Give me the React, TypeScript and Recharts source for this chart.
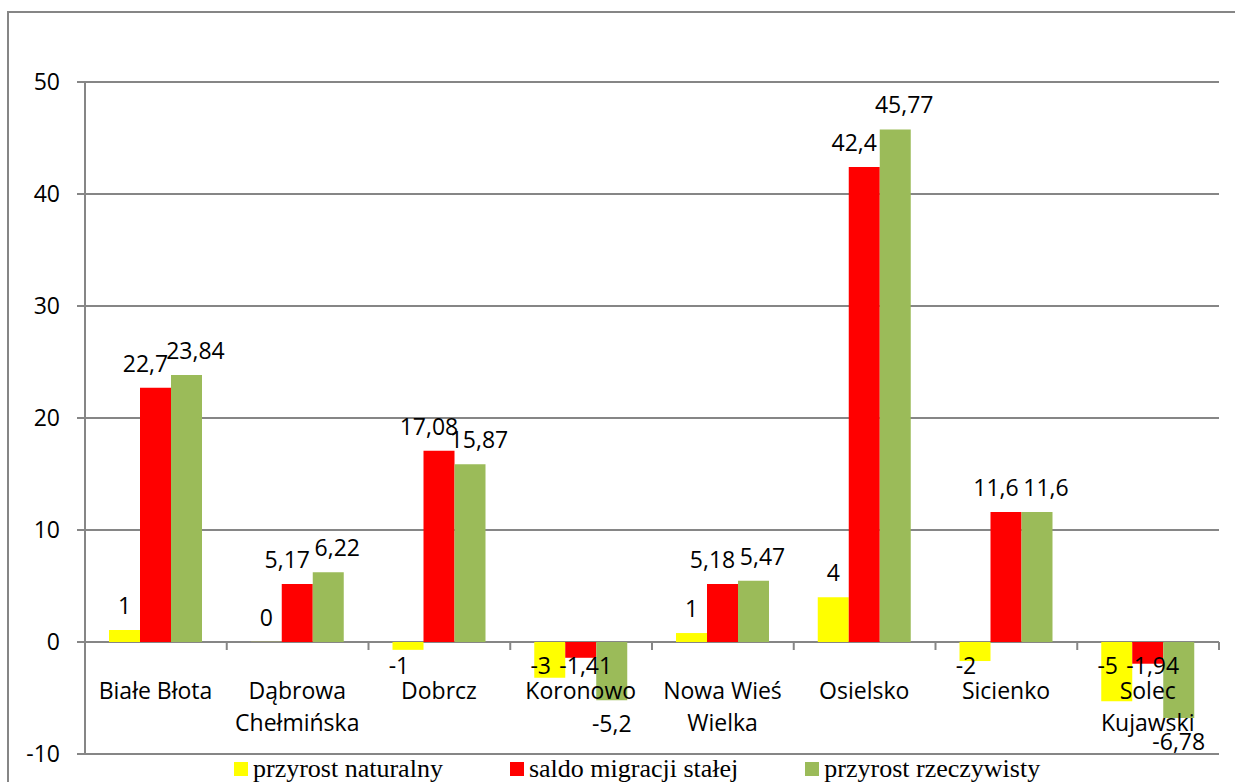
import { useEffect } from 'react';
import { BarChart, Bar, XAxis, YAxis, CartesianGrid, LabelList } from 'recharts';

const categories = ['Białe Błota', 'Dąbrowa Chełmińska', 'Dobrcz', 'Koronowo', 'Nowa Wieś Wielka', 'Osielsko', 'Sicienko', 'Solec Kujawski'];
const categoryLines = [['Białe Błota'], ['Dąbrowa', 'Chełmińska'], ['Dobrcz'], ['Koronowo'], ['Nowa Wieś', 'Wielka'], ['Osielsko'], ['Sicienko'], ['Solec', 'Kujawski']];
// bar heights as drawn, labels are the rounded values printed on the chart
const przyrostNaturalny = [1.07, 0.01, -0.7, -3.2, 0.8, 4.0, -1.7, -5.3];
const przyrostNaturalnyLabels = ['1', '0', '-1', '-3', '1', '4', '-2', '-5'];
const saldoMigracji = [22.7, 5.17, 17.08, -1.41, 5.18, 42.4, 11.6, -1.94];
const przyrostRzeczywisty = [23.84, 6.22, 15.87, -5.2, 5.47, 45.77, 11.6, -6.78];
const yTicks = [-10, 0, 10, 20, 30, 40, 50];
const seriesNames = ['przyrost naturalny', 'saldo migracji stałej', 'przyrost rzeczywisty'];
const seriesColors = ['#FFFF00', '#FF0000', '#9BBB59'];

const data = categories.map((name, i) => ({
  name,
  lines: categoryLines[i].join('|'),
  nat: przyrostNaturalny[i],
  natLabel: przyrostNaturalnyLabels[i],
  mig: saldoMigracji[i],
  rz: przyrostRzeczywisty[i],
}));

const W = 1235;
const H = 782;
const MT = 82;
const MB = 27;
const MR = 16;
const YW = 85;
const PH = H - MT - MB - 1;
const zeroY = MT + (PH * 50) / 60;
const bandW = (W - YW - MR) / categories.length;
const FONT = '"Open Sans", sans-serif';
const FS = 23;
const GRAY = '#868686';

const fmt = (v: any) => String(v).replace('.', ',');

// negAtBase: negative labels sit just under the zero line instead of under the bar end
const makeLabel = (shift: number, negShift: number, negAtBase: boolean) => (props: any) => {
  const { x, y, width, height, value } = props;
  const top = Math.min(y, y + height);
  const bottom = Math.max(y, y + height);
  const neg = Number(value) < 0;
  const cx = x + width / 2 + (neg ? negShift : shift);
  const ty = neg ? (negAtBase ? Math.min(bottom + 17, zeroY + 23) : bottom + 23) : top - 25;
  return (
    <text x={cx} y={ty} textAnchor="middle" dominantBaseline="central" fontFamily={FONT} fontSize={FS} fill="#000">
      {fmt(value)}
    </text>
  );
};

// category names drawn over the bars, centred on the middle bar of each group
const CategoryLabel = (props: any) => {
  const { x, width, value } = props;
  const cx = x - width / 2;
  const lines = String(value).split('|');
  return (
    <g>
      {lines.map((l, k) => (
        <text key={k} x={cx} y={zeroY + 48 + k * 32} textAnchor="middle" dominantBaseline="central" fontFamily={FONT} fontSize={FS} fill="#000">
          {l}
        </text>
      ))}
    </g>
  );
};

const BoundaryTick = (props: any) => {
  const { x } = props;
  return <line x1={x + bandW / 2} x2={x + bandW / 2} y1={zeroY} y2={zeroY + 8} stroke={GRAY} strokeWidth={2} />;
};

export default function App() {
  useEffect(() => {
    document.body.style.margin = '0';
  }, []);
  return (
    <div style={{ position: 'relative', width: W, height: H, overflow: 'hidden', background: '#fff' }}>
      <div style={{ position: 'absolute', left: 7, top: 11, width: 1400, height: 1000, borderLeft: `2px solid ${GRAY}`, borderTop: `2px solid ${GRAY}` }} />
      <div style={{ position: 'absolute', left: 0, top: 0 }}>
        <BarChart width={W} height={H} data={data} margin={{ top: MT, right: MR, bottom: MB, left: 0 }} barGap={0} barCategoryGap={24}>
          <CartesianGrid vertical={false} stroke={GRAY} strokeWidth={2} />
          <YAxis
            width={YW}
            domain={[-10, 50]}
            ticks={yTicks}
            interval={0}
            axisLine={{ stroke: GRAY, strokeWidth: 2 }}
            tickLine={{ stroke: GRAY, strokeWidth: 2 }}
            tickSize={8}
            tickMargin={17}
            tick={{ fontFamily: FONT, fontSize: FS, fill: '#000' }}
          />
          <XAxis dataKey="name" height={1} axisLine={false} tickLine={false} interval={0} tick={<BoundaryTick />} />
          <Bar dataKey="nat" fill={seriesColors[0]} isAnimationActive={false}>
            <LabelList dataKey="natLabel" content={makeLabel(0, -9, true)} />
          </Bar>
          <Bar dataKey="mig" fill={seriesColors[1]} isAnimationActive={false}>
            <LabelList dataKey="mig" content={makeLabel(-10, 5, true)} />
          </Bar>
          <Bar dataKey="rz" fill={seriesColors[2]} isAnimationActive={false}>
            <LabelList dataKey="rz" content={makeLabel(9, 0, false)} />
            <LabelList dataKey="lines" content={CategoryLabel} />
          </Bar>
        </BarChart>
      </div>
      <div style={{ position: 'absolute', left: 234, top: 754, display: 'flex', alignItems: 'center', fontFamily: '"Liberation Serif", "Times New Roman", serif', fontSize: 26, lineHeight: '30px', color: '#000' }}>
        {seriesNames.map((n, i) => (
          <div key={n} style={{ display: 'flex', alignItems: 'center', marginRight: 67 }}>
            <span style={{ display: 'inline-block', width: 14, height: 14, background: seriesColors[i], marginRight: 5 }} />
            <span>{n}</span>
          </div>
        ))}
      </div>
    </div>
  );
}
